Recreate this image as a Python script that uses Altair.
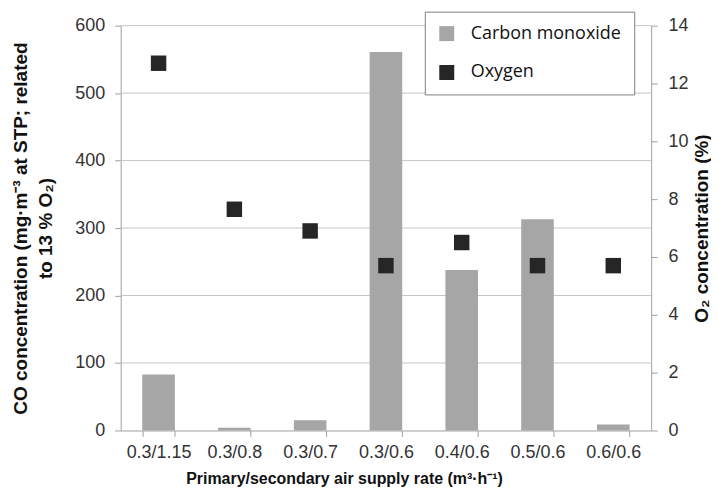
import altair as alt
import pandas as pd

categories = ["0.3/1.15", "0.3/0.8", "0.3/0.7", "0.3/0.6", "0.4/0.6", "0.5/0.6", "0.6/0.6"]
co_values = [83, 4, 15, 561, 238, 313, 9]
o2_values = [12.7, 7.65, 6.9, 5.7, 6.5, 5.7, 5.7]
series_names = ["Carbon monoxide", "Oxygen"]
series_colors = ["#a6a6a6", "#262626"]
co_ticks = [0, 100, 200, 300, 400, 500, 600]
o2_ticks = [0, 2, 4, 6, 8, 10, 12, 14]

co_df = pd.DataFrame({"category": categories, "value": co_values, "series": series_names[0]})
o2_df = pd.DataFrame({"category": categories, "value": o2_values, "series": series_names[1]})
grid_df = pd.DataFrame({"value": co_ticks[1:]})

AX = "#a0a0a0"
FONT = "Liberation Sans"

color = alt.Color(
    "series:N",
    scale=alt.Scale(domain=series_names, range=series_colors),
    legend=alt.Legend(
        title=None,
        orient="none",
        legendX=305,
        legendY=-14,
        symbolType="square",
        symbolSize=225,
        symbolStrokeWidth=0,
        strokeColor="#7f7f7f",
        fillColor="white",
        padding=13,
        rowPadding=21,
        labelFont="Open Sans",
        labelFontSize=18,
        labelColor="#111111",
        labelOffset=15,
        labelLimit=300,
        labelExpr="datum.label + '\u00a0\u00a0\u00a0\u00a0\u00a0\u00a0'",
    ),
)

x = alt.X(
    "category:N",
    sort=categories,
    title="Primary/secondary air supply rate (m³·h⁻¹)",
    axis=alt.Axis(
        labelAngle=0,
        tickBand="extent",
        tickSize=6,
        tickColor=AX,
        domainColor=AX,
        labelFont=FONT,
        labelFontSize=18,
        labelColor="#333333",
        labelPadding=7,
        titleFont=FONT,
        titleFontSize=16,
        titleFontWeight="bold",
        titleColor="#111111",
        titlePadding=9,
        titleX=224,
        titleAlign="center",
    ),
    scale=alt.Scale(paddingInner=0.57),
)

co_scale = alt.Scale(domain=[0, 600])
co_title = ["CO concentration (mg·m⁻³ at STP; related", "to 13 % O₂)"]
co_axis = alt.Axis(
    values=co_ticks,
    grid=False,
    tickColor=AX,
    domainColor=AX,
    tickSize=6,
    labelFont=FONT,
    labelFontSize=18,
    labelColor="#333333",
    labelPadding=10,
    titleFont=FONT,
    titleFontSize=19,
    titleFontWeight="bold",
    titleColor="#111111",
    titleLineHeight=25,
    titlePadding=19,
)

grid = alt.Chart(grid_df).mark_rule(color="#c6c6c6", strokeWidth=1).encode(
    y=alt.Y("value:Q", scale=co_scale, title=co_title, axis=co_axis),
)

bars = alt.Chart(co_df).mark_bar(color=series_colors[0]).encode(
    x=x,
    y=alt.Y("value:Q", scale=co_scale, title=co_title, axis=co_axis),
    color=color,
)

points = alt.Chart(o2_df).mark_point(shape="square", filled=True, size=240, opacity=1).encode(
    x=x,
    y=alt.Y(
        "value:Q",
        scale=alt.Scale(domain=[0, 14]),
        title="O₂ concentration (%)",
        axis=alt.Axis(
            orient="right",
            values=o2_ticks,
            grid=False,
            tickColor=AX,
            domainColor=AX,
            tickSize=6,
            labelFont=FONT,
            labelFontSize=18,
            labelColor="#333333",
            labelPadding=11,
            titleFont=FONT,
            titleFontSize=19,
            titleFontWeight="bold",
            titleColor="#111111",
            titleAngle=270,
            titleX=50,
            titleY=203,
            titleAlign="center",
            titleBaseline="middle",
        ),
    ),
    color=color,
)

chart = (
    alt.layer(alt.layer(grid, bars), points)
    .resolve_scale(y="independent")
    .properties(
        width=532,
        height=406,
        background="white",
        padding={"top": 2, "left": 3, "right": 0, "bottom": 0},
    )
    .configure_view(strokeWidth=0)
)

chart.save("out.html", embed_options={"renderer": "svg", "actions": False})
